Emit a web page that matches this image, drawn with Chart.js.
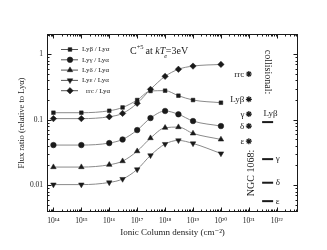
<!DOCTYPE html>
<html>
<head>
<meta charset="utf-8">
<script src="https://cdn.jsdelivr.net/npm/chart.js@4.4.1/dist/chart.umd.min.js"></script>
<style>
html,body{margin:0;padding:0;background:#fff;}
#wrap{width:327px;height:250px;}
</style>
</head>
<body>
<div id="wrap"><canvas id="c" width="327" height="250"></canvas></div>
<script>
// ---- data ----
const columnDensity = [1e14, 1e15, 1e16, 3e16, 1e17, 3e17, 1e18, 3e18, 1e19, 1e20];
const lyBeta   = [0.128, 0.128, 0.137, 0.154, 0.200, 0.275, 0.278, 0.233, 0.200, 0.182];
const lyGamma  = [0.041, 0.041, 0.044, 0.050, 0.0695, 0.106, 0.136, 0.121, 0.0955, 0.080];
const lyDelta  = [0.0189, 0.0189, 0.0205, 0.0233, 0.0331, 0.0524, 0.0755, 0.0772, 0.0618, 0.050];
const lyEps    = [0.0102, 0.0102, 0.0110, 0.0124, 0.0174, 0.0285, 0.0425, 0.0483, 0.0434, 0.0305];
const rrcRatio = [0.104, 0.104, 0.111, 0.125, 0.178, 0.291, 0.46, 0.59, 0.66, 0.70];
const seriesLabels = ['Lyβ / Lyα', 'Lyγ / Lyα', 'Lyδ / Lyα', 'Lyε / Lyα', 'rrc / Lyα'];

const collisionalX = 1e21;
const collisionalLabels = ['rrc', 'Lyβ', 'γ', 'δ', 'ε'];
const collisionalValues = [0.50, 0.205, 0.122, 0.080, 0.047];

const ngcX = 4.7e21;
const ngcLabels = ['Lyβ', 'γ', 'δ', 'ε'];
const ngcValues = [0.092, 0.025, 0.0109, 0.0057];

const xTickValues = [1e14, 1e15, 1e16, 1e17, 1e18, 1e19, 1e20, 1e21, 1e22];
const xTickLabels = ['10¹⁴', '10¹⁵', '10¹⁶', '10¹⁷', '10¹⁸', '10¹⁹', '10²⁰', '10²¹', '10²²'];
const yTickValues = [0.01, 0.1, 1];
const yTickLabels = ['0.01', '0.1', '1'];

// ---- styles ----
const SERIF = "'Liberation Serif', 'DejaVu Serif', serif";
const lineGray = '#8a8a8a';
const ink = '#1a1a1a';
const styles = [
  {pointStyle: 'rect', radius: 2.6, rotation: 0},
  {pointStyle: 'circle', radius: 2.8, rotation: 0},
  {pointStyle: 'triangle', radius: 3.2, rotation: 0},
  {pointStyle: 'triangle', radius: 3.2, rotation: 180},
  {pointStyle: 'rectRot', radius: 3.2, rotation: 0},
];
const seriesData = [lyBeta, lyGamma, lyDelta, lyEps, rrcRatio];

const datasets = seriesData.map((arr, i) => ({
  label: seriesLabels[i],
  data: arr.map((v, k) => ({x: columnDensity[k], y: v})),
  showLine: true,
  borderColor: lineGray,
  borderWidth: 1,
  cubicInterpolationMode: 'monotone',
  pointStyle: styles[i].pointStyle,
  pointRadius: styles[i].radius,
  pointRotation: styles[i].rotation,
  pointBackgroundColor: ink,
  pointBorderColor: ink,
  pointBorderWidth: 0.5,
}));

datasets.push({
  label: 'collisional',
  data: collisionalValues.map(v => ({x: collisionalX, y: v})),
  showLine: false,
  pointStyle: 'star',
  pointRadius: 3,
  pointBorderColor: ink,
  pointBorderWidth: 1.2,
});
datasets.push({
  label: 'NGC 1068',
  data: ngcValues.map(v => ({x: ngcX, y: v})),
  showLine: false,
  pointStyle: 'line',
  pointRadius: 5.5,
  pointBorderColor: ink,
  pointBorderWidth: 2,
});

const LOG_X_MIN = Math.pow(10, 13.77);
const LOG_X_MAX = Math.pow(10, 22.76);
const Y_MIN = Math.pow(10, -2.41);
const Y_MAX = Math.pow(10, 0.31);

const framePlugin = {
  id: 'frame',
  afterDatasetsDraw(chart) {
    const ctx = chart.ctx;
    const a = chart.chartArea;
    const xs = chart.scales.x, ys = chart.scales.y;
    ctx.save();
    ctx.strokeStyle = ink;
    ctx.lineWidth = 1;
    const L = Math.round(a.left) + 0.5, R = Math.round(a.right) - 0.5;
    const T = Math.round(a.top) + 0.5, B = Math.round(a.bottom) - 0.5;
    ctx.strokeRect(L, T, R - L, B - T);
    ctx.beginPath();
    for (let n = 13; n <= 22; n++) {
      for (let m = 1; m <= 9; m++) {
        const v = m * Math.pow(10, n);
        if (v < LOG_X_MIN || v > LOG_X_MAX) continue;
        const px = Math.round(xs.getPixelForValue(v)) + 0.5;
        const len = m === 1 ? 4 : 2;
        ctx.moveTo(px, B); ctx.lineTo(px, B - len);
        ctx.moveTo(px, T); ctx.lineTo(px, T + len);
      }
    }
    for (let n = -3; n <= 0; n++) {
      for (let m = 1; m <= 9; m++) {
        const v = m * Math.pow(10, n);
        if (v < Y_MIN || v > Y_MAX) continue;
        const py = Math.round(ys.getPixelForValue(v)) + 0.5;
        const len = m === 1 ? 4 : 2;
        ctx.moveTo(L, py); ctx.lineTo(L + len, py);
        ctx.moveTo(R, py); ctx.lineTo(R - len, py);
      }
    }
    ctx.stroke();

    // legend
    const lx0 = a.left + 14, lx1 = a.left + 31, mx = a.left + 23;
    const rows = [15, 25.3, 35.6, 45.9, 56.2];
    ctx.font = '7px ' + SERIF;
    ctx.textBaseline = 'middle';
    ctx.textAlign = 'left';
    for (let i = 0; i < 5; i++) {
      const y = a.top + rows[i];
      ctx.strokeStyle = '#555';
      ctx.lineWidth = 1;
      ctx.beginPath(); ctx.moveTo(lx0, y + 0.5); ctx.lineTo(lx1, y + 0.5); ctx.stroke();
      ctx.fillStyle = ink; ctx.strokeStyle = ink; ctx.lineWidth = 0.5;
      Chart.helpers.drawPoint(ctx, {pointStyle: styles[i].pointStyle, radius: styles[i].radius, rotation: styles[i].rotation, borderWidth: 0.5}, mx, y + 0.5);
      ctx.fillStyle = ink;
      ctx.fillText(seriesLabels[i], a.left + (i === 4 ? 39 : 35), y + 0.5);
    }

    // title annotation: C+5 at kTe=3eV
    let x = a.left + 83, by = a.top + 19.5;
    ctx.textBaseline = 'alphabetic';
    ctx.font = '10px ' + SERIF;
    ctx.fillText('C', x, by); x += ctx.measureText('C').width;
    ctx.font = '6.5px ' + SERIF;
    ctx.fillText('+5', x, by - 4.5); x += ctx.measureText('+5').width + 2;
    ctx.font = '10px ' + SERIF;
    ctx.fillText('at ', x, by); x += ctx.measureText('at ').width;
    ctx.font = 'italic 10px ' + SERIF;
    ctx.fillText('kT', x, by); x += ctx.measureText('kT').width;
    ctx.font = 'italic 6.5px ' + SERIF;
    ctx.fillText('e', x - 1, by + 4);
    ctx.font = '10px ' + SERIF;
    ctx.fillText('=3eV', x + 0.5, by);

    // collisional labels
    ctx.font = '9px ' + SERIF;
    ctx.textAlign = 'right';
    ctx.textBaseline = 'middle';
    for (let i = 0; i < collisionalValues.length; i++) {
      const py = ys.getPixelForValue(collisionalValues[i]);
      const px = xs.getPixelForValue(collisionalX);
      ctx.fillText(collisionalLabels[i], px - 4.5, py + 0.5);
    }
    // NGC labels
    ctx.textAlign = 'left';
    for (let i = 0; i < ngcValues.length; i++) {
      const py = ys.getPixelForValue(ngcValues[i]);
      const px = xs.getPixelForValue(ngcX);
      if (i === 0) {
        ctx.textAlign = 'center';
        ctx.fillText(ngcLabels[i], px + 3, py - 8);
        ctx.textAlign = 'left';
      } else {
        ctx.fillText(ngcLabels[i], px + 8, py);
      }
    }
    // rotated texts
    ctx.font = '10px ' + SERIF;
    ctx.save();
    ctx.translate(a.left + 221, a.top + 38);
    ctx.rotate(Math.PI / 2);
    ctx.textAlign = 'center';
    ctx.fillText('collisional:', 0, 0);
    ctx.restore();
    ctx.save();
    ctx.translate(a.left + 204, a.top + 139);
    ctx.rotate(-Math.PI / 2);
    ctx.textAlign = 'center';
    ctx.fillText('NGC 1068:', 0, 0);
    ctx.restore();
    ctx.restore();
  }
};

new Chart(document.getElementById('c'), {
  type: 'scatter',
  data: {datasets},
  options: {
    responsive: false,
    animation: false,
    devicePixelRatio: 1,
    layout: {padding: {left: 0, right: 29, top: 34, bottom: 0}},
    plugins: {legend: {display: false}, tooltip: {enabled: false}},
    scales: {
      x: {
        type: 'logarithmic',
        min: LOG_X_MIN, max: LOG_X_MAX,
        afterBuildTicks(s) { s.ticks = xTickValues.map(v => ({value: v})); },
        afterFit(s) { s.height = 38; },
        grid: {display: false, drawTicks: false},
        border: {display: false},
        ticks: {
          autoSkip: false, maxRotation: 0, padding: 5,
          color: ink, font: {family: SERIF, size: 7.5},
          callback: (v) => { const i = xTickValues.findIndex(t => Math.abs(t - v) / t < 1e-6); return i >= 0 ? xTickLabels[i] : ''; }
        },
        title: {display: true, text: 'Ionic Column density (cm⁻²)', color: ink,
          font: {family: SERIF, size: 9}, padding: {top: 0, bottom: 11.5}}
      },
      y: {
        type: 'logarithmic',
        min: Y_MIN, max: Y_MAX,
        afterBuildTicks(s) { s.ticks = yTickValues.map(v => ({value: v})); },
        afterFit(s) { s.width = 47; },
        grid: {display: false, drawTicks: false},
        border: {display: false},
        ticks: {
          autoSkip: false, padding: 4,
          color: ink, font: {family: SERIF, size: 7.5},
          callback: (v) => { const i = yTickValues.findIndex(t => Math.abs(t - v) / t < 1e-6); return i >= 0 ? yTickLabels[i] : ''; }
        },
        title: {display: true, text: 'Flux ratio (relative to Lyα)', color: ink,
          font: {family: SERIF, size: 8.5}, padding: {top: 16.5, bottom: 0}}
      }
    }
  },
  plugins: [framePlugin]
});
</script>
</body>
</html>
